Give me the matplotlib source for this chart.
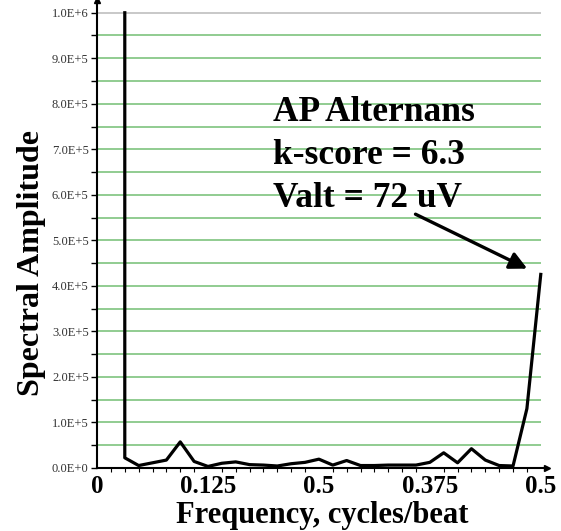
import numpy as np
import matplotlib.pyplot as plt
from matplotlib.ticker import MultipleLocator, FuncFormatter

# spectrum: bin index (k/64 cycles/beat) and amplitude
bins = [2, 2, 3, 4, 5, 6, 7, 8, 9, 10, 11, 12, 13, 14, 15, 16, 17,
        18, 19, 20, 21, 22, 23, 24, 25, 26, 27, 28, 29, 30, 31, 32]
amplitude = [1.0e6, 2.2e4, 5e3, 1.1e4, 1.7e4, 5.7e4, 1.4e4, 3e3, 1e4, 1.3e4,
             7e3, 6e3, 4e3, 9e3, 1.2e4, 1.9e4, 6e3, 1.6e4, 5e3, 5e3, 6e3,
             6e3, 6e3, 1.2e4, 3.3e4, 1.1e4, 4.2e4, 1.7e4, 5e3, 4e3, 1.3e5, 4.25e5]
freq = np.array(bins) / 64

xtick_vals = [0, 0.125, 0.25, 0.375, 0.5]
xtick_labels = ['0', '0.125', '0.5', '0.375', '0.5']
note_lines = ['AP Alternans', 'k-score = 6.3', 'Valt = 72 uV']

serif = ['Liberation Serif', 'DejaVu Serif']
font1 = {'family': serif, 'weight': 'bold'}

fig, ax = plt.subplots(figsize=(5.61, 5.31), dpi=100)
fig.subplots_adjust(left=0.173, right=0.975, bottom=0.119, top=1.0)

# horizontal grid every 5E+4
for g in np.arange(5e4, 1.0e6 + 1, 5e4):
    c = '#c4c4c4' if g >= 1.0e6 else '#88c888'
    ax.hlines(g, 0, 0.5, colors=c, lw=1.3, zorder=1)

ax.plot(freq, amplitude, color='black', lw=2.3, zorder=3)

ax.set_xlim(0, 0.507)
ax.set_ylim(0, 1.028e6)

for s in ['top', 'right']:
    ax.spines[s].set_visible(False)
for s in ['left', 'bottom']:
    ax.spines[s].set_linewidth(1.5)
ax.plot(1, 0, '>k', ms=5, transform=ax.get_yaxis_transform(), clip_on=False)
ax.plot(0, 1, '^k', ms=5, transform=ax.get_xaxis_transform(), clip_on=False)

ax.yaxis.set_major_locator(MultipleLocator(1e5))
ax.yaxis.set_minor_locator(MultipleLocator(5e4))
ax.yaxis.set_major_formatter(FuncFormatter(
    lambda v, p: '%.1fE+%d' % (v / 10 ** int(np.floor(np.log10(v))), int(np.floor(np.log10(v))))
    if v > 0 else '0.0E+0'))
ax.tick_params(axis='y', which='both', length=4, width=1, pad=2,
               labelsize=9, labelcolor='#333333')
for t in ax.get_yticklabels():
    t.set_family(serif)

ax.set_xticks(xtick_vals)
ax.set_xticklabels(xtick_labels, fontdict=font1, fontsize=18)
ax.set_xticks(np.arange(1, 33) / 64, minor=True)
ax.tick_params(axis='x', which='major', length=0, pad=5)
ax.tick_params(axis='x', which='minor', length=3, width=0.8)

ax.set_ylabel('Spectral Amplitude', fontdict=font1, fontsize=23)
ax.yaxis.set_label_coords(-0.113, 0.438)
ax.set_xlabel('Frequency, cycles/beat', fontdict=font1, fontsize=22, labelpad=2)

for i, line in enumerate(note_lines):
    ax.text(0.198, 0.763e6 - i * 0.0945e6, line, fontdict=font1, fontsize=25.5,
            va='baseline', ha='left', zorder=4)

ax.annotate('', xy=(0.4876, 0.435e6), xytext=(0.356, 0.560e6),
            arrowprops=dict(arrowstyle='-|>', color='black', lw=2.4,
                            mutation_scale=26), zorder=4)

plt.savefig('out.png', dpi=100)
